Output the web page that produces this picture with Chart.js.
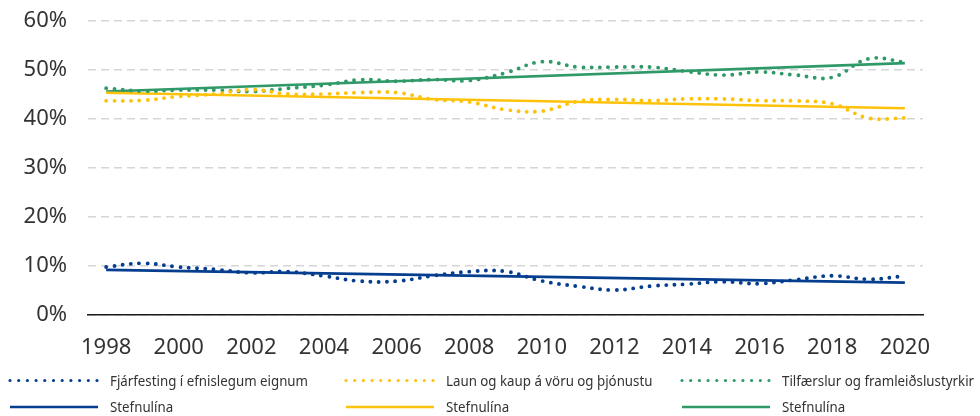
<!DOCTYPE html>
<html>
<head>
<meta charset="utf-8">
<script src="https://cdn.jsdelivr.net/npm/chart.js@4.4.1/dist/chart.umd.min.js"></script>
<style>
  html, body { margin: 0; padding: 0; background: #ffffff; }
  #wrap { width: 980px; height: 416px; position: relative; }
</style>
</head>
<body>
<div id="wrap"><canvas id="c" width="980" height="416"></canvas></div>
<script>
// ---- Data ----
const years = ['1998','1999','2000','2001','2002','2003','2004','2005','2006','2007','2008',
               '2009','2010','2011','2012','2013','2014','2015','2016','2017','2018','2019','2020'];

const fjarfesting = [9.8, 10.55, 9.8, 9.3, 8.6, 8.85, 7.95, 6.9, 6.9, 8.0, 8.85,
                     8.9, 6.95, 5.85, 5.1, 5.9, 6.3, 6.8, 6.4, 7.2, 8.0, 7.3, 7.95];

const laun = [43.7, 43.8, 44.6, 45.1, 46.0, 45.1, 45.1, 45.4, 45.4, 44.0, 43.5,
              41.9, 41.6, 43.6, 44.0, 43.75, 44.1, 44.1, 43.75, 43.7, 43.1, 40.2, 40.2];

const tilfaerslur = [46.3, 45.7, 45.9, 45.9, 45.6, 46.25, 46.9, 48.0, 47.7, 48.05, 47.85,
                     49.4, 51.7, 50.6, 50.6, 50.6, 49.7, 48.96, 49.6, 48.96, 48.5, 52.3, 51.6];

// Trend lines (Stefnulína): value at first and last year
const trendFjarfesting = [9.2, 6.6];
const trendLaun = [45.35, 42.2];
const trendTilfaerslur = [45.6, 51.4];

const yTicks = [0, 10, 20, 30, 40, 50, 60];

const seriesLabels = ['Fjárfesting í efnislegum eignum', 'Laun og kaup á vöru og þjónustu', 'Tilfærslur og framleiðslustyrkir'];
const trendLabel = 'Stefnulína';

// ---- Styling ----
const BLUE = '#053d8f';
const YELLOW = '#ffc20a';
const GREEN = '#2f9a68';
const TEXT = '#333333';

function endpoints(pair) {
  const arr = years.map(() => null);
  arr[0] = pair[0];
  arr[years.length - 1] = pair[1];
  return arr;
}

function dotted(label, data, color) {
  return {
    label, data, borderColor: color, backgroundColor: color,
    borderWidth: 3.9, borderDash: [0, 8.3], borderCapStyle: 'round',
    pointRadius: 0, pointHoverRadius: 0, tension: 0.4, fill: false,
    kind: 'dotted'
  };
}
function trend(label, data, color) {
  return {
    label, data: endpoints(data), borderColor: color, backgroundColor: color,
    borderWidth: 2.6, pointRadius: 0, pointHoverRadius: 0, spanGaps: true,
    tension: 0, fill: false, kind: 'trend'
  };
}

const datasets = [
  dotted(seriesLabels[0], fjarfesting, BLUE),
  dotted(seriesLabels[1], laun, YELLOW),
  dotted(seriesLabels[2], tilfaerslur, GREEN),
  trend(trendLabel, trendFjarfesting, BLUE),
  trend(trendLabel, trendLaun, YELLOW),
  trend(trendLabel, trendTilfaerslur, GREEN)
];

// Custom two-row, three-column legend
const legendPlugin = {
  id: 'gridLegend',
  afterDraw(chart) {
    const ctx = chart.ctx;
    const colX = [10, 346, 682];
    const rowY = [380.5, 407];
    const swatchW = 88;
    const textGap = 12;
    ctx.save();
    ctx.font = '14.5px "Noto Sans"';
    const sx = 198 / ctx.measureText(seriesLabels[0]).width;
    chart.data.datasets.forEach((ds, i) => {
      const col = i % 3;
      const row = i < 3 ? 0 : 1;
      const x0 = colX[col];
      const y = rowY[row];
      ctx.strokeStyle = ds.borderColor;
      if (ds.kind === 'dotted') {
        ctx.lineWidth = 3.2;
        ctx.lineCap = 'round';
        ctx.setLineDash([0, 8.7]);
      } else {
        ctx.lineWidth = 2.4;
        ctx.lineCap = 'butt';
        ctx.setLineDash([]);
      }
      ctx.beginPath();
      ctx.moveTo(x0, y);
      ctx.lineTo(x0 + swatchW, y);
      ctx.stroke();
      ctx.setLineDash([]);
      ctx.fillStyle = TEXT;
      ctx.textBaseline = 'middle';
      ctx.textAlign = 'left';
      ctx.save();
      ctx.translate(x0 + swatchW + textGap, y + 1);
      ctx.scale(sx, 1);
      ctx.fillText(ds.label, 0, 0);
      ctx.restore();
    });
    ctx.restore();
  }
};

new Chart(document.getElementById('c'), {
  type: 'line',
  data: { labels: years, datasets },
  plugins: [legendPlugin],
  options: {
    responsive: false,
    animation: false,
    layout: { padding: { top: 21, right: 57, bottom: 56, left: 0 } },
    plugins: {
      legend: { display: false },
      tooltip: { enabled: false },
      title: { display: false }
    },
    scales: {
      x: {
        type: 'category',
        offset: true,
        grid: { display: false, drawTicks: false },
        border: { display: true, color: '#1a1a1a', width: 1.6 },
        ticks: {
          autoSkip: false,
          maxRotation: 0,
          padding: 20,
          color: TEXT,
          font: { family: '"Noto Sans"', size: 22 },
          callback: function (val, idx) { return idx % 2 === 0 ? years[idx] : ''; }
        },
        afterFit(scale) { scale.height = 45; }
      },
      y: {
        min: 0, max: 60,
        afterBuildTicks(scale) { scale.ticks = yTicks.map(v => ({ value: v })); },
        grid: {
          color: '#d6d6d6', lineWidth: 1.4,
          drawTicks: true, tickLength: 21, tickColor: 'rgba(0,0,0,0)'
        },
        border: { display: false, dash: [8, 5] },
        ticks: {
          padding: 0,
          color: TEXT,
          font: { family: '"Noto Sans"', size: 22 },
          callback: v => v + '%'
        },
        afterFit(scale) { scale.width = 88; }
      }
    }
  }
});
</script>
</body>
</html>
